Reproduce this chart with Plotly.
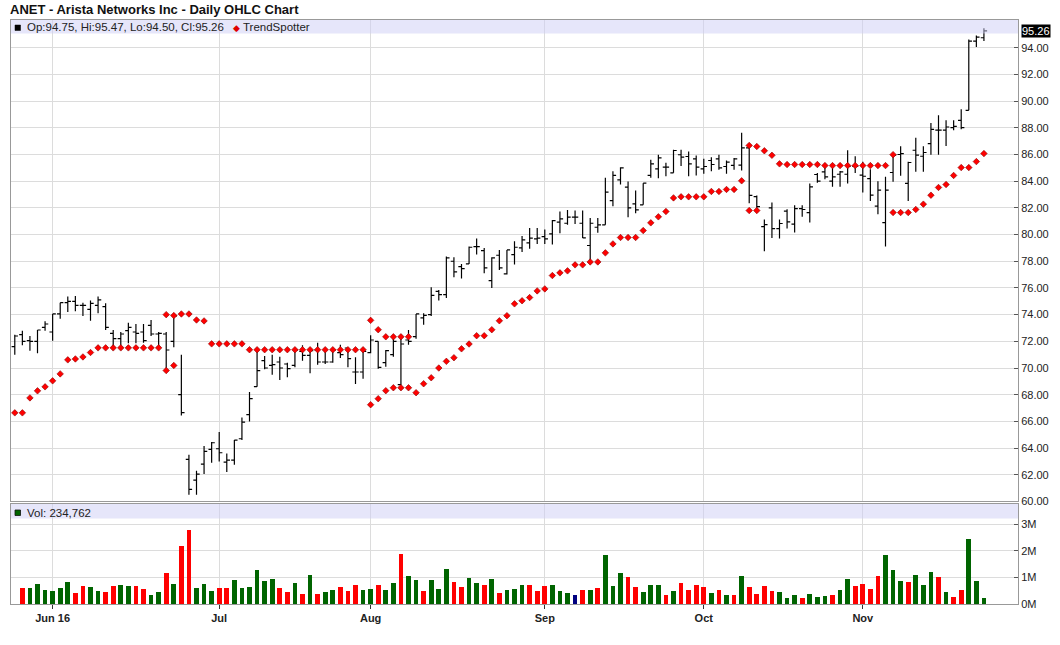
import pandas as pd
import plotly.graph_objects as go

# --- Data (24 May - 23 Nov 2016) ---
holidays = ["2016-05-30", "2016-07-04", "2016-09-05"]
dates = [d for d in pd.bdate_range("2016-05-24", "2016-11-23") if d.strftime("%Y-%m-%d") not in holidays]

opens = [71.6, 72.5, 72.05, 72.0, 73.05, 72.7, 74.05, 74.9, 75.0, 74.7,
         74.4, 74.7, 74.6, 72.6, 72.2, 72.8, 72.7, 72.7, 73.2, 72.55,
         72.55, 72.0, 68.0, 63.15, 61.6, 62.8, 63.9, 63.95, 62.95, 63.1,
         64.7, 66.5, 68.6, 70.55, 70.2, 70.45, 70.3, 70.2, 71.25, 70.95,
         71.35, 70.45, 70.45, 71.15, 71.5, 69.7, 69.7, 71.15, 72.0, 70.4,
         71.0, 68.75, 72.1, 72.35, 73.75, 74.0, 75.75, 75.5, 78.0, 77.6,
         77.8, 79.1, 78.8, 76.55, 78.45, 77.05, 78.5, 79.0, 79.38, 79.68,
         79.85, 80.05, 80.93, 80.85, 81.3, 80.85, 79.18, 80.55, 80.73, 82.55,
         84.1, 83.55, 82.3, 82.23, 84.43, 84.93, 85.05, 84.63, 85.98, 85.85,
         85.68, 84.93, 85.55, 85.68, 85.1, 85.18, 85.2, 86.5, 82.85, 80.6,
         82.0, 80.45, 81.75, 80.78, 81.95, 81.65, 84.5, 84.7, 84.0, 84.52,
         84.52, 85.12, 84.45, 84.2, 82.13, 80.9, 84.65, 86.0, 83.83, 86.32,
         85.87, 86.82, 87.82, 87.82, 88.01, 88.56, 89.31, 94.5, 94.75]
highs = [72.5, 72.8, 72.4, 72.85, 73.5, 74.05, 74.9, 75.35, 75.4, 74.9,
         75.05, 75.35, 74.85, 72.85, 72.7, 73.4, 73.3, 73.3, 73.6, 72.7,
         72.7, 73.9, 71.0, 63.5, 62.3, 64.15, 64.45, 65.2, 63.6, 64.6,
         66.3, 68.2, 71.35, 70.9, 71.0, 70.85, 70.4, 71.5, 71.7, 71.35,
         71.9, 71.45, 71.5, 71.75, 71.5, 70.8, 71.3, 72.45, 72.0, 71.35,
         72.2, 72.5, 72.85, 74.05, 74.1, 76.05, 75.85, 78.35, 78.3, 77.8,
         79.1, 79.7, 79.0, 78.3, 78.85, 78.85, 79.5, 79.9, 80.5, 80.5,
         80.38, 81.1, 81.73, 81.85, 81.8, 81.8, 81.25, 81.25, 84.25, 84.75,
         85.05, 83.98, 83.3, 83.85, 85.6, 85.98, 85.38, 86.35, 86.35, 86.23,
         85.93, 85.68, 85.8, 85.98, 85.55, 85.73, 87.63, 86.8, 82.93, 81.13,
         82.4, 81.13, 81.9, 82.2, 82.2, 83.83, 84.62, 85.07, 85.02, 84.77,
         86.32, 85.87, 85.45, 84.9, 84.0, 84.33, 86.07, 86.62, 85.45, 87.25,
         86.62, 88.36, 88.94, 88.56, 88.56, 89.39, 94.62, 94.92, 95.47]
lows = [71.0, 71.7, 71.3, 71.1, 72.8, 72.05, 73.7, 74.2, 74.25, 73.9,
        73.55, 74.1, 72.85, 71.6, 71.7, 71.85, 71.85, 71.9, 72.4, 71.55,
        69.75, 71.55, 66.45, 60.5, 60.5, 62.05, 62.9, 63.0, 62.2, 62.75,
        64.6, 66.0, 68.6, 69.9, 69.5, 69.1, 69.3, 70.05, 70.55, 69.6,
        70.25, 70.3, 70.4, 70.75, 70.05, 68.8, 69.2, 71.1, 69.95, 70.1,
        70.85, 68.7, 71.75, 72.2, 73.25, 73.9, 75.05, 75.25, 76.8, 76.7,
        77.8, 78.5, 77.1, 76.0, 77.35, 77.0, 77.75, 78.7, 78.93, 79.3,
        79.3, 79.25, 80.1, 80.73, 80.8, 79.75, 78.0, 80.13, 80.73, 82.13,
        83.75, 81.3, 81.6, 82.23, 84.25, 84.23, 84.38, 84.63, 85.13, 84.38,
        84.43, 84.55, 84.75, 84.85, 84.55, 84.85, 84.8, 82.35, 81.68, 78.75,
        79.75, 79.7, 80.45, 80.15, 81.33, 80.9, 83.88, 84.15, 83.58, 83.58,
        83.83, 84.62, 83.15, 82.52, 81.53, 79.1, 83.95, 84.4, 82.52, 84.7,
        84.7, 85.99, 85.99, 86.64, 87.82, 87.89, 89.31, 94.05, 94.50]
closes = [72.4, 72.0, 72.0, 72.85, 73.3, 74.05, 74.9, 75.0, 74.7, 74.7,
          74.85, 75.1, 73.05, 72.2, 72.55, 73.05, 72.6, 72.05, 72.55, 72.6,
          71.35, 73.9, 66.65, 60.9, 62.05, 63.75, 64.4, 63.65, 63.1, 64.6,
          65.95, 67.7, 69.8, 70.0, 70.25, 70.0, 69.95, 71.35, 70.95, 71.3,
          70.45, 70.45, 71.35, 71.0, 70.7, 69.7, 71.25, 72.1, 70.05, 71.3,
          72.0, 71.8, 72.0, 74.05, 73.95, 75.45, 75.5, 78.25, 77.2, 77.45,
          79.05, 79.1, 77.5, 78.25, 77.5, 78.85, 79.05, 79.6, 79.73, 79.73,
          79.68, 81.05, 81.18, 81.3, 81.3, 79.75, 80.85, 80.73, 83.18, 84.43,
          85.0, 82.0, 81.85, 83.85, 85.3, 85.75, 85.05, 86.3, 85.8, 85.3,
          85.05, 85.1, 85.25, 85.0, 85.43, 85.68, 86.5, 82.93, 82.1, 80.75,
          80.45, 80.83, 80.95, 81.95, 81.88, 83.58, 84.0, 84.32, 84.32, 84.7,
          85.12, 85.12, 84.37, 82.95, 83.33, 83.33, 85.95, 86.07, 85.4, 85.95,
          86.15, 87.89, 87.82, 88.06, 88.11, 88.01, 94.5, 94.8, 95.26]

# volume in millions of shares (first day has no volume bar)
volume_m = [None, 0.61, 0.61, 0.76, 0.53, 0.49, 0.61, 0.83, 0.42, 0.68,
            0.64, 0.49, 0.45, 0.68, 0.72, 0.68, 0.68, 0.57, 0.34, 0.45,
            1.17, 0.76, 2.19, 2.76, 0.61, 0.76, 0.49, 0.61, 0.61, 0.91,
            0.61, 0.64, 1.29, 0.87, 0.95, 0.61, 0.45, 0.79, 0.38, 1.10,
            0.38, 0.45, 0.53, 0.64, 0.49, 0.72, 0.53, 0.57, 0.72, 0.53,
            0.79, 1.89, 1.06, 0.91, 0.49, 0.91, 0.57, 1.32, 0.83, 0.64,
            0.98, 0.79, 0.72, 0.95, 0.42, 0.53, 0.57, 0.72, 0.72, 0.49,
            0.68, 0.72, 0.49, 0.42, 0.34, 0.53, 0.53, 0.61, 1.82, 0.68,
            1.17, 1.02, 0.64, 0.45, 0.72, 0.72, 0.34, 0.49, 0.79, 0.53,
            0.72, 0.64, 0.42, 0.53, 0.34, 0.34, 1.06, 0.64, 0.38, 0.68,
            0.49, 0.45, 0.23, 0.34, 0.23, 0.38, 0.26, 0.30, 0.34, 0.53,
            0.95, 0.68, 0.76, 0.57, 1.06, 1.85, 1.29, 0.87, 0.83, 1.10,
            0.72, 1.21, 1.02, 0.45, 0.26, 0.53, 2.42, 0.87, 0.234762]
# u = up day, d = down day, n = unchanged, - = no bar
volume_dir = ("-duuuuuuddu" "udduudduud" "udduuudduu" "uuuuddudud" "uuddduuduu"
              "duuduuuddu" "ududuuuddd" "uuunduduuu" "dduuududdd" "dudududddd"
              "uuuduuuduu" "dddduuuduu" "ududduuu")

trend = [66.64, 66.64, 67.76, 68.29, 68.59, 69.04, 69.56, 70.61, 70.68, 70.83,
         71.16, 71.51, 71.51, 71.51, 71.51, 71.51, 71.51, 71.51, 71.51, 71.51,
         74.0, 73.93, 74.05, 74.05, 73.6, 73.53, 71.81, 71.81, 71.81, 71.81,
         71.81, 71.37, 71.37, 71.37, 71.37, 71.37, 71.37, 71.37, 71.37, 71.37,
         71.37, 71.37, 71.37, 71.37, 71.37, 71.37, 71.37, 73.57, 72.87, 72.34,
         72.34, 72.34, 72.34, 68.15, 68.82, 69.27, 70.0, 70.5, 70.77, 71.44,
         71.8, 72.42, 72.42, 72.87, 73.54, 73.92, 74.81, 75.04, 75.28, 75.78,
         75.93, 76.93, 77.13, 77.28, 77.73, 77.73, 77.95, 77.95, 78.63, 79.3,
         79.78, 79.78, 79.78, 80.3, 80.88, 81.33, 81.73, 82.75, 82.83, 82.83,
         82.83, 82.83, 83.23, 83.23, 83.38, 83.38, 84.03, 86.68, 86.6, 86.28,
         85.94, 85.3, 85.25, 85.25, 85.25, 85.25, 85.25, 85.17, 85.17, 85.17,
         85.17, 85.17, 85.17, 85.17, 85.17, 85.17, 85.99, 81.65, 81.65, 81.88,
         82.28, 82.95, 83.53, 83.75, 84.43, 85.02, 85.02, 85.47, 86.07]
# second TrendSpotter dot drawn on reversal days
trend_alt = {20: 69.81, 21: 70.19, 47: 67.25, 48: 67.7, 49: 68.3, 50: 68.52,
             51: 68.52, 52: 68.52, 97: 81.8, 98: 81.8, 116: 81.65}

price_ticks = [60, 62, 64, 66, 68, 70, 72, 74, 76, 78, 80, 82, 84, 86, 88, 90, 92, 94]
vol_ticks = [0, 1, 2, 3]
month_labels = ["Jun 16", "Jul", "Aug", "Sep", "Oct", "Nov"]

# --- Build ---
idx = list(range(len(dates)))
month_pos = [i for i in idx if i > 0 and dates[i].month != dates[i - 1].month]

dir_colors = {"u": "#006400", "d": "#ff0000", "n": "#000080", "-": "#ffffff"}
vol_colors = [dir_colors[c] for c in volume_dir]
vol_shares = [None if v is None else v * 1e6 for v in volume_m]

W, H = 1060, 645
L, R, T, B = 11, 42, 20, 41
plot_w = W - L - R
plot_h = H - T - B
price_dom = [(604.3 - 501.7) / (604.3 - 20), 1]
vol_dom = [0, (604.3 - 504.3) / (604.3 - 20)]


def px(x):
    return (x - L) / plot_w


def py(y):
    return 1 - (y - T) / plot_h


dot_marker = dict(symbol="diamond", size=5, color="#ff0000", line=dict(color="#8b0000", width=0.6))

fig = go.Figure()

fig.add_trace(go.Ohlc(
    x=idx, open=opens, high=highs, low=lows, close=closes,
    increasing_line_color="black", decreasing_line_color="black",
    line_width=1.2, tickwidth=0.42, xaxis="x", yaxis="y",
    hoverinfo="skip", showlegend=False
))

fig.add_trace(go.Scatter(
    x=idx, y=trend, mode="markers", xaxis="x", yaxis="y",
    marker=dot_marker, hoverinfo="skip", showlegend=False
))
fig.add_trace(go.Scatter(
    x=list(trend_alt.keys()), y=list(trend_alt.values()), mode="markers", xaxis="x", yaxis="y",
    marker=dot_marker, hoverinfo="skip", showlegend=False
))

fig.add_trace(go.Bar(
    x=idx, y=vol_shares, marker_color=vol_colors, marker_line_width=0,
    width=0.62, xaxis="x2", yaxis="y2", hoverinfo="skip", showlegend=False
))

axis_font = dict(family="Liberation Sans, Arial, sans-serif", size=11, color="#222222")
grid = "#dcdcdc"
frame = "#999999"

fig.update_layout(
    width=W, height=H,
    margin=dict(l=L, r=R, t=T, b=B),
    paper_bgcolor="white", plot_bgcolor="white",
    bargap=0,
    title=dict(
        text="<b>ANET - Arista Networks Inc - Daily OHLC Chart</b>",
        x=10 / W, xanchor="left", xref="container",
        y=1 - 9 / H, yanchor="middle", yref="container",
        font=dict(family="Liberation Sans, Arial, sans-serif", size=13, color="#111111")
    ),
    xaxis=dict(
        domain=[0, 1], anchor="y", range=[-0.5, 132.5],
        tickvals=month_pos, showticklabels=False, ticks="",
        showgrid=True, gridcolor=grid, gridwidth=1, zeroline=False,
        showline=True, mirror=True, linecolor=frame, linewidth=1,
        rangeslider=dict(visible=False), fixedrange=True
    ),
    yaxis=dict(
        domain=price_dom, anchor="x", side="right", range=[60, 96.08],
        tickvals=price_ticks, tickformat=".2f",
        ticks="inside", ticklen=4, tickcolor="#555555",
        showgrid=True, gridcolor=grid, gridwidth=1, zeroline=False,
        showline=True, mirror=True, linecolor=frame, linewidth=1,
        tickfont=axis_font
    ),
    xaxis2=dict(
        domain=[0, 1], anchor="y2", range=[-0.5, 132.5], matches="x",
        tickvals=month_pos, ticktext=["<b>%s</b>" % t for t in month_labels],
        ticks="outside", ticklen=4, tickcolor="#333333",
        showgrid=True, gridcolor=grid, gridwidth=1, zeroline=False,
        showline=True, mirror=True, linecolor=frame, linewidth=1,
        tickfont=axis_font
    ),
    yaxis2=dict(
        domain=vol_dom, anchor="x2", side="right", range=[0, 3.75e6],
        tickvals=[v * 1e6 for v in vol_ticks], ticktext=["%dM" % v for v in vol_ticks],
        ticks="inside", ticklen=4, tickcolor="#555555",
        showgrid=True, gridcolor=grid, gridwidth=1, zeroline=False,
        showline=True, mirror=True, linecolor=frame, linewidth=1,
        tickfont=axis_font
    ),
)

band = "rgba(205,205,245,0.5)"
price_band_h = 13.5 / (501.7 - 20)
vol_band_h = 14.5 / (604.3 - 504.3)
fig.add_shape(type="rect", xref="x domain", yref="y domain", x0=0, x1=1,
              y0=1 - price_band_h, y1=1, fillcolor=band, line_width=0, layer="above")
fig.add_shape(type="rect", xref="x2 domain", yref="y2 domain", x0=0, x1=1,
              y0=1 - vol_band_h, y1=1, fillcolor=band, line_width=0, layer="above")

# legend squares
fig.add_shape(type="rect", xref="paper", yref="paper", x0=px(15), x1=px(20.5),
              y0=py(30.5), y1=py(25),
              fillcolor="black", line=dict(color="black", width=0.5), layer="above")
fig.add_shape(type="rect", xref="paper", yref="paper", x0=px(15), x1=px(20.5),
              y0=py(515.5), y1=py(510),
              fillcolor="#006400", line=dict(color="#111111", width=0.8), layer="above")

legend_font = dict(family="Liberation Sans, Arial, sans-serif", size=11.5, color="#222222")
last = len(idx) - 1
fig.add_annotation(
    xref="paper", yref="paper", x=px(25), y=py(27.5),
    xanchor="left", yanchor="middle", showarrow=False, font=legend_font,
    text="Op:%.2f, Hi:%.2f, Lo:%.2f, Cl:%.2f" % (opens[last], highs[last], lows[last], closes[last])
)
fig.add_annotation(
    xref="paper", yref="paper", x=px(231), y=py(27.5),
    xanchor="left", yanchor="middle", showarrow=False, font=legend_font,
    text="<span style='color:#e00000;font-size:9px'>\u25c6</span> TrendSpotter"
)
fig.add_annotation(
    xref="paper", yref="paper", x=px(25), y=py(512.5),
    xanchor="left", yanchor="middle", showarrow=False, font=legend_font,
    text="Vol: {:,}".format(round(volume_m[last] * 1e6))
)
# last price tag on the right axis
fig.add_annotation(
    xref="paper", yref="y", x=1, xshift=3, y=closes[last],
    xanchor="left", yanchor="middle", showarrow=False,
    text="%.2f" % closes[last], bgcolor="black", borderpad=0,
    font=dict(family="Liberation Sans, Arial, sans-serif", size=11, color="white")
)

# the page's default 8px body margin would shift the whole chart
fig.write_html("out.html", config={"displayModeBar": False},
               post_script="document.body.style.margin='0';")
